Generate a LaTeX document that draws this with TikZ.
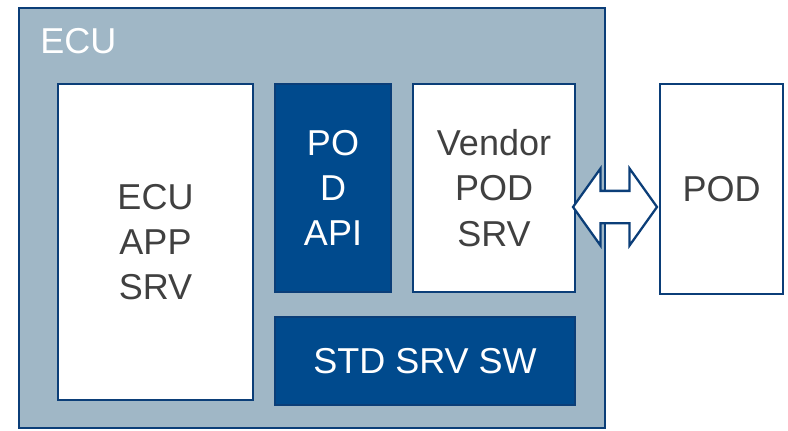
\documentclass[tikz,border=0pt]{standalone}
\usepackage{fontspec}
\setmainfont{Liberation Sans}
\usetikzlibrary{shapes.arrows}
\definecolor{ecugrey}{HTML}{A0B7C6}
\definecolor{navy}{HTML}{004A8D}
\definecolor{edge}{HTML}{0B3E78}
\definecolor{txt}{HTML}{404040}
\tikzset{
	box/.style={draw=edge,line width=1.7pt,fill=white,text=txt,align=center,
		inner sep=0pt,font=\fontsize{27}{34}\selectfont},
	darkbox/.style={box,fill=navy,text=white}
}
\begin{document}
\begin{tikzpicture}[x=0.75pt,y=-0.75pt]
	\useasboundingbox (0,0) rectangle (788,431);
	% ECU frame
	\node[box,fill=ecugrey,line width=2pt,minimum width=439.5pt,minimum height=315pt] (ecu) at (312,218) {};
	\node[anchor=north west,inner sep=0pt,text=white,font=\fontsize{27}{34}\selectfont] (ecutitle) at (40,28) {ECU};
	% software blocks
	\node[box,minimum width=146.25pt,minimum height=237pt] (app) at (155.5,242) {ECU\\APP\\SRV};
	\node[darkbox,minimum width=87pt,minimum height=156pt] (api) at (333,188) {PO\\D\\API};
	\node[box,minimum width=121.5pt,minimum height=156pt] (vendor) at (494,188) {Vendor\\POD\\SRV};
	\node[darkbox,minimum width=225pt,minimum height=66pt] (std) at (425,361) {STD SRV SW};
	% external device
	\node[box,minimum width=92.25pt,minimum height=157.5pt] (pod) at (721.5,189) {POD};
	\node[double arrow,draw=edge,line width=1.7pt,fill=white,inner sep=11.25pt,
		minimum height=63pt,double arrow head extend=16.75pt,
		double arrow tip angle=109] (link) at (615,207) {};
\end{tikzpicture}
\end{document}
